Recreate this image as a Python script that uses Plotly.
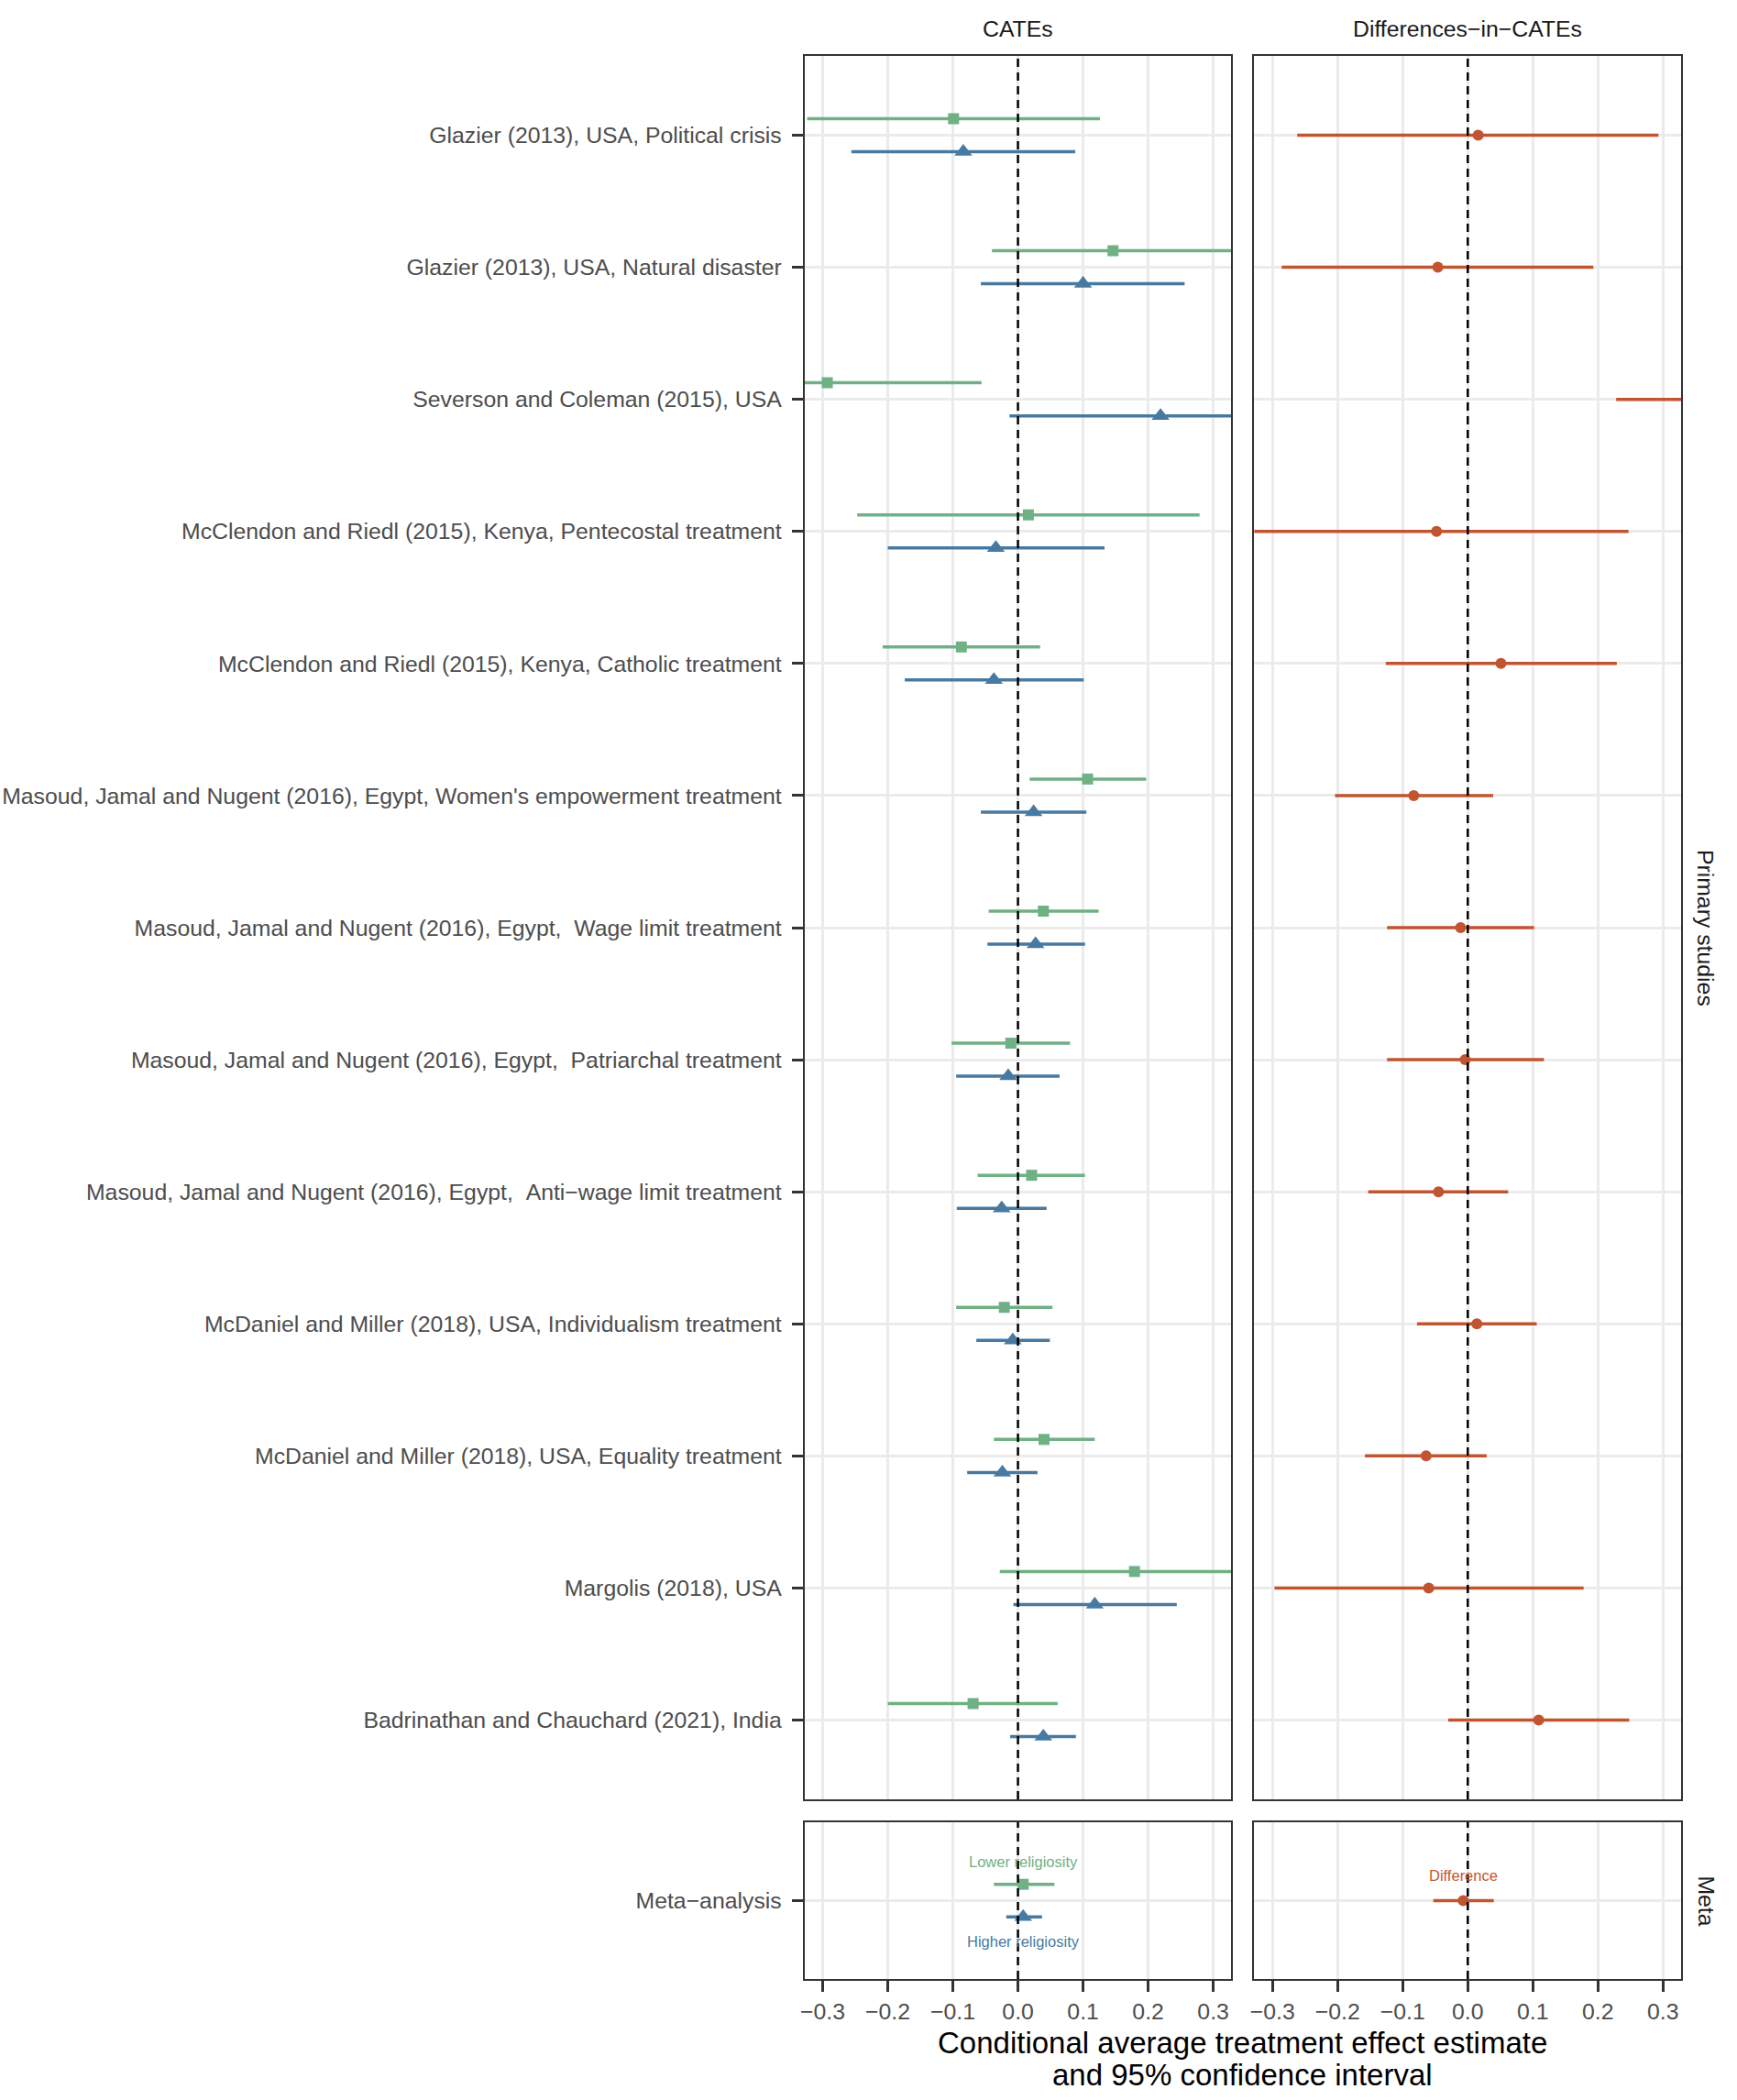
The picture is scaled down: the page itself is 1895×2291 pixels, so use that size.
import plotly.graph_objects as go

# ---------------- data ----------------
studies = [
    "Glazier (2013), USA, Political crisis",
    "Glazier (2013), USA, Natural disaster",
    "Severson and Coleman (2015), USA",
    "McClendon and Riedl (2015), Kenya, Pentecostal treatment",
    "McClendon and Riedl (2015), Kenya, Catholic treatment",
    "Masoud, Jamal and Nugent (2016), Egypt, Women's empowerment treatment",
    "Masoud, Jamal and Nugent (2016), Egypt, \u00a0Wage limit treatment",
    "Masoud, Jamal and Nugent (2016), Egypt, \u00a0Patriarchal treatment",
    "Masoud, Jamal and Nugent (2016), Egypt, \u00a0Anti\u2212wage limit treatment",
    "McDaniel and Miller (2018), USA, Individualism treatment",
    "McDaniel and Miller (2018), USA, Equality treatment",
    "Margolis (2018), USA",
    "Badrinathan and Chauchard (2021), India",
]

# Lower religiosity CATEs (green squares)
low_est = [-0.099, 0.146, -0.293, 0.016, -0.087, 0.107, 0.039, -0.011, 0.021, -0.021, 0.040, 0.179, -0.069]
low_lo  = [-0.324, -0.040, -0.530, -0.247, -0.208, 0.018, -0.045, -0.102, -0.062, -0.095, -0.037, -0.028, -0.200]
low_hi  = [0.126, 0.331, -0.056, 0.279, 0.034, 0.197, 0.124, 0.080, 0.103, 0.053, 0.118, 0.386, 0.061]

# Higher religiosity CATEs (blue triangles)
high_est = [-0.084, 0.100, 0.219, -0.034, -0.037, 0.024, 0.027, -0.015, -0.025, -0.008, -0.024, 0.118, 0.039]
high_lo  = [-0.256, -0.057, -0.013, -0.200, -0.174, -0.057, -0.047, -0.095, -0.094, -0.064, -0.078, -0.007, -0.012]
high_hi  = [0.088, 0.256, 0.450, 0.133, 0.101, 0.105, 0.103, 0.064, 0.044, 0.049, 0.030, 0.244, 0.089]

# Differences-in-CATEs (red circles)
diff_est = [0.016, -0.046, 0.511, -0.048, 0.051, -0.083, -0.011, -0.004, -0.045, 0.014, -0.064, -0.060, 0.109]
diff_lo  = [-0.262, -0.286, 0.228, -0.343, -0.126, -0.204, -0.124, -0.124, -0.153, -0.078, -0.158, -0.297, -0.030]
diff_hi  = [0.293, 0.193, 0.794, 0.247, 0.229, 0.039, 0.102, 0.117, 0.062, 0.106, 0.029, 0.178, 0.248]

# Meta-analysis
meta_label = "Meta\u2212analysis"
meta_low = [0.008, -0.037, 0.056]     # est, lo, hi
meta_high = [0.008, -0.018, 0.037]
meta_diff = [-0.007, -0.053, 0.040]

x_ticks = [-0.3, -0.2, -0.1, 0.0, 0.1, 0.2, 0.3]

# ---------------- style ----------------
GREEN = "#6FB185"
BLUE = "#487AA1"
RED = "#C25531"
GRID = "#EBEBEB"
BORDER = "#333333"
TXT = "#4D4D4D"
FONT = "Liberation Sans"
W, H = 1895, 2291
DODGE = 0.125
XR = [-0.328, 0.328]

n = len(studies)
rows = [n - i for i in range(n)]


def px_x(a, b):
    return [a / W, b / W]


def px_y(top, bottom):
    return [1 - bottom / H, 1 - top / H]


LEFT = (875, 1342)
RIGHT = (1367, 1834)
PRIM = (61, 1963)
META = (1988, 2159)


def err(est, lo, hi):
    return dict(type="data", symmetric=False,
                array=[h - e for e, h in zip(est, hi)],
                arrayminus=[e - l for e, l in zip(est, lo)],
                width=0, thickness=3.5)


fig = go.Figure()


def add_series(est, lo, hi, ys, color, symbol, size, xa, ya):
    e = err(est, lo, hi)
    e["color"] = color
    fig.add_trace(go.Scatter(
        x=est, y=ys, mode="markers", xaxis=xa, yaxis=ya,
        marker=dict(color=color, symbol=symbol, size=size, line=dict(width=0)),
        error_x=e, showlegend=False, hoverinfo="x+y"))


# primary studies
add_series(low_est, low_lo, low_hi, [r + DODGE for r in rows], GREEN, "square", 12, "x", "y")
add_series(high_est, high_lo, high_hi, [r - DODGE for r in rows], BLUE, "triangle-up", 17, "x", "y")
add_series(diff_est, diff_lo, diff_hi, rows, RED, "circle", 12, "x2", "y2")
# meta
add_series([meta_low[0]], [meta_low[1]], [meta_low[2]], [1 + DODGE], GREEN, "square", 12, "x3", "y3")
add_series([meta_high[0]], [meta_high[1]], [meta_high[2]], [1 - DODGE], BLUE, "triangle-up", 17, "x3", "y3")
add_series([meta_diff[0]], [meta_diff[1]], [meta_diff[2]], [1], RED, "circle", 12, "x4", "y4")

xbase = dict(range=XR, tickvals=x_ticks, showgrid=True, gridcolor=GRID, gridwidth=2.5,
             zeroline=False, showline=True, mirror=True, linecolor=BORDER, linewidth=2,
             fixedrange=True)
xnolab = dict(xbase, showticklabels=False, ticks="")
xlab = dict(xbase, ticks="outside", ticklen=12, tickwidth=3, tickcolor=BORDER,
            tickformat=".1f", tickfont=dict(family=FONT, size=24.8, color=TXT))

ybase = dict(showgrid=True, gridcolor=GRID, gridwidth=2.5, zeroline=False,
             showline=True, mirror=True, linecolor=BORDER, linewidth=2, fixedrange=True)
ylab = dict(ticks="outside", ticklen=12, tickwidth=3, tickcolor=BORDER, ticklabelstandoff=6,
            tickfont=dict(family=FONT, size=24.8, color=TXT))

fig.update_layout(
    width=W, height=H, margin=dict(l=0, r=0, t=0, b=0),
    paper_bgcolor="white", plot_bgcolor="white",
    showlegend=False,
    xaxis=dict(xnolab, domain=px_x(*LEFT), anchor="y"),
    xaxis2=dict(xnolab, domain=px_x(*RIGHT), anchor="y2"),
    xaxis3=dict(xlab, domain=px_x(*LEFT), anchor="y3"),
    xaxis4=dict(xlab, domain=px_x(*RIGHT), anchor="y4"),
    yaxis=dict(ybase, **ylab, domain=px_y(*PRIM), anchor="x", range=[0.4, n + 0.6],
               tickvals=rows, ticktext=studies),
    yaxis2=dict(ybase, domain=px_y(*PRIM), anchor="x2", range=[0.4, n + 0.6],
                tickvals=rows, showticklabels=False, ticks=""),
    yaxis3=dict(ybase, **ylab, domain=px_y(*META), anchor="x3", range=[0.4, 1.6],
                tickvals=[1], ticktext=[meta_label]),
    yaxis4=dict(ybase, domain=px_y(*META), anchor="x4", range=[0.4, 1.6],
                tickvals=[1], showticklabels=False, ticks=""),
)

# dashed zero lines
for xa, ya in [("x", "y"), ("x2", "y2"), ("x3", "y3"), ("x4", "y4")]:
    fig.add_shape(type="line", xref=xa, yref=f"{ya} domain", x0=0, x1=0, y0=0, y1=1,
                  line=dict(color="black", width=2.5, dash="9px,6px"), layer="above")

ann = []
# strip titles
ann.append(dict(text="CATEs", x=(LEFT[0] + LEFT[1]) / 2 / W, y=1 - 31 / H))
ann.append(dict(text="Differences\u2212in\u2212CATEs", x=(RIGHT[0] + RIGHT[1]) / 2 / W, y=1 - 31 / H))
for a in ann:
    a.update(xref="paper", yref="paper", showarrow=False, xanchor="center", yanchor="middle",
             font=dict(family=FONT, size=24.8, color="#1A1A1A"))
for txt, (t, b) in [("Primary studies", PRIM), ("Meta", META)]:
    ann.append(dict(text=txt, x=1861 / W, y=1 - (t + b) / 2 / H, xref="paper", yref="paper",
                    showarrow=False, textangle=90, xanchor="center", yanchor="middle",
                    font=dict(family=FONT, size=24.8, color="#1A1A1A")))
# meta labels
ann.append(dict(text="Lower religiosity", x=meta_low[0], y=1.295, xref="x3", yref="y3",
                showarrow=False, xanchor="center", yanchor="middle",
                font=dict(family=FONT, size=16.5, color=GREEN)))
ann.append(dict(text="Higher religiosity", x=meta_high[0], y=0.686, xref="x3", yref="y3",
                showarrow=False, xanchor="center", yanchor="middle",
                font=dict(family=FONT, size=16.5, color=BLUE)))
ann.append(dict(text="Difference", x=meta_diff[0], y=1.19, xref="x4", yref="y4",
                showarrow=False, xanchor="center", yanchor="middle",
                font=dict(family=FONT, size=16.5, color=RED)))
# x title
xc = (LEFT[0] + RIGHT[1]) / 2 / W
ann.append(dict(text="Conditional average treatment effect estimate", x=xc, y=1 - 2228 / H,
                xref="paper", yref="paper", showarrow=False, xanchor="center", yanchor="middle",
                font=dict(family=FONT, size=33, color="black")))
ann.append(dict(text="and 95% confidence interval", x=xc, y=1 - 2263 / H,
                xref="paper", yref="paper", showarrow=False, xanchor="center", yanchor="middle",
                font=dict(family=FONT, size=33, color="black")))
fig.update_layout(annotations=ann)

fig.write_html("out.html")
